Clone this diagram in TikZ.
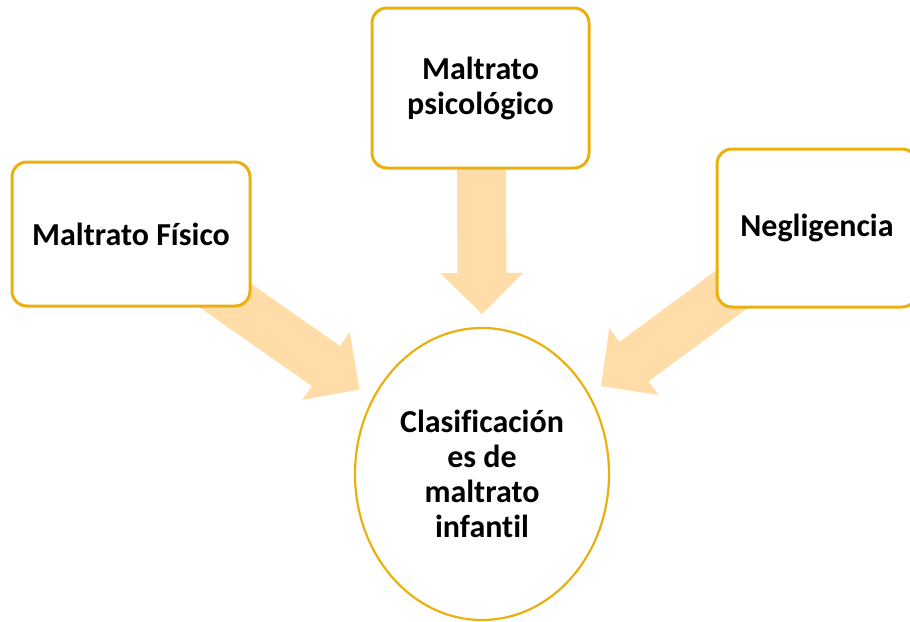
\documentclass[tikz,border=0pt]{standalone}
\usepackage{fontspec}
\setmainfont{Carlito}[Ligatures=NoCommon]
\usetikzlibrary{calc,shapes.geometric}
\definecolor{goldline}{HTML}{E9B10E}
\definecolor{peach}{HTML}{FFDCA8}
\tikzset{
  lbl/.style={font=\fontsize{32}{35}\selectfont\bfseries, align=center, text=black},
  rbox/.style={lbl, draw=goldline, line width=3pt, fill=white, rounded corners=15pt, inner sep=0pt},
  oval/.style={lbl, ellipse, draw=goldline, line width=2.2pt, fill=white, inner sep=0pt},
  blockarrow/.style={fill=peach, draw=none}
}
\newcommand{\blockarr}[2]{%
  \coordinate (hb) at ($(#2)!41pt!(#1)$);
  \fill[blockarrow] ($(#1)!24.5pt!90:(#2)$) -- ($(hb)!24.5pt!90:(#2)$) -- ($(hb)!41.5pt!90:(#2)$) -- (#2)
     -- ($(hb)!41.5pt!-90:(#2)$) -- ($(hb)!24.5pt!-90:(#2)$) -- ($(#1)!24.5pt!-90:(#2)$) -- cycle;
}
\begin{document}
\begin{tikzpicture}[x=1pt,y=-1pt]
\useasboundingbox (0,0) rectangle (910,621);
% arrow end points
\coordinate (ltail) at (196,275);
\coordinate (ltip) at (359.5,389.5);
\coordinate (ttail) at (481.5,160);
\coordinate (ttip) at (482,314);
\coordinate (rtail) at (762,267);
\coordinate (rtip) at (601,386);
\blockarr{ltail}{ltip}
\blockarr{ttail}{ttip}
\blockarr{rtail}{rtip}
% boxes
\node[rbox, minimum width=238pt, minimum height=144pt] (fis) at (131,234) {Maltrato Físico};
\node[rbox, minimum width=217pt, minimum height=160pt] (psi) at (480.5,88) {Maltrato\\psicológico};
\node[rbox, minimum width=200pt, minimum height=158pt] (neg) at (817,228) {Negligencia};
\node[oval, minimum width=254pt, minimum height=292pt] (cla) at (482,474) {Clasificación\\es de\\maltrato\\infantil};
\end{tikzpicture}
\end{document}
